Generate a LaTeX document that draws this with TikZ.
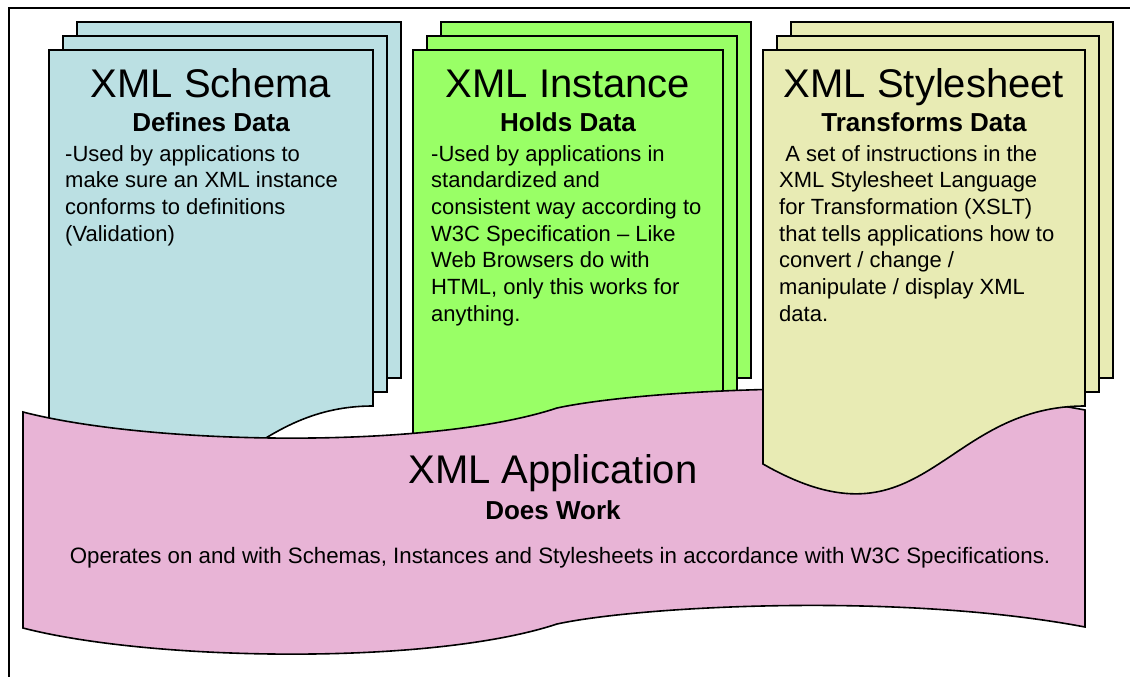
\documentclass[tikz,border=0pt]{standalone}
\usepackage{fontspec}
\setmainfont{Liberation Sans}

\definecolor{schemafill}{HTML}{BBE0E3}
\definecolor{instancefill}{HTML}{99FF66}
\definecolor{stylefill}{HTML}{E8EBB4}
\definecolor{appfill}{HTML}{E8B4D6}

% Three stacked sheets: #1 = left edge of the front sheet, #2 = its width, #3 = fill
\newcommand{\sheetstack}[3]{%
  \filldraw[sheet, fill=#3] ({#1+28},22) rectangle ({#1+#2+28},378);
  \filldraw[sheet, fill=#3] ({#1+14},36) rectangle ({#1+#2+14},392);
  \filldraw[sheet, fill=#3] (#1,50) -- ({#1+#2},50) -- ({#1+#2},406)
     .. controls ({#1+#2*0.55},406) and ({#1+#2/2},556) .. (#1,464) -- cycle;
}

\begin{document}
\begin{tikzpicture}[x=1pt, y=-1pt,
  sheet/.style={draw=black, line width=1.6pt, line join=miter},
  frameline/.style={draw=black, line width=2pt},
  titletext/.style={font=\fontsize{40}{44}\selectfont, anchor=base, inner sep=0pt},
  subtext/.style={font=\fontsize{26}{30}\selectfont\bfseries, anchor=base, inner sep=0pt},
  bodytext/.style={font=\fontsize{22}{26.7}\selectfont, anchor=base west, inner sep=0pt},
  apptext/.style={font=\fontsize{22.3}{26}\selectfont, anchor=base, inner sep=0pt}]
\useasboundingbox (0,0) rectangle (1130,677);
\fill[white] (0,0) rectangle (1130,677);

% page frame
\draw[frameline] (9,680) -- (9,8) -- (1133,8);

% schema and instance stacks (behind the application banner)
\sheetstack{49}{324}{schemafill}
\sheetstack{413}{310}{instancefill}

% application banner
\filldraw[sheet, fill=appfill]
  (23,412) .. controls (150,445) and (430,450) .. (557,408)
           .. controls (640,390) and (900,375) .. (1085,410)
  -- (1085,627)
           .. controls (900,592) and (640,606) .. (557,624)
           .. controls (430,666) and (150,661) .. (23,628) -- cycle;

% stylesheet stack (in front of the banner)
\sheetstack{763}{322}{stylefill}

% schema texts
\node[titletext] (schemaT) at (211,98) {XML Schema};
\node[subtext] (schemaS) at (211,131) {Defines Data};
\node[bodytext] (schemaB) at (65,161) {\begin{tabular}[t]{@{}l@{}}
-Used by applications to\\
make sure an XML instance\\
conforms to definitions\\
(Validation)\end{tabular}};

% instance texts
\node[titletext] (instT) at (568,98) {XML Instance};
\node[subtext] (instS) at (568,131) {Holds Data};
\node[bodytext] (instB) at (431,161) {\begin{tabular}[t]{@{}l@{}}
-Used by applications in\\
standardized and\\
consistent way according to\\
W3C Specification – Like\\
Web Browsers do with\\
HTML, only this works for\\
anything.\end{tabular}};

% stylesheet texts
\node[titletext] (styleT) at (924,98) {XML Stylesheet};
\node[subtext] (styleS) at (924,131) {Transforms Data};
\node[bodytext] (styleB) at (779,161) {\begin{tabular}[t]{@{}l@{}}
\ A set of instructions in the\\
XML Stylesheet Language\\
for Transformation (XSLT)\\
that tells applications how to\\
convert / change /\\
manipulate / display XML\\
data.\end{tabular}};

% application texts
\node[titletext] (appT) at (553,483) {XML Application};
\node[subtext] (appS) at (553,519) {Does Work};
\node[apptext] (appB) at (560,563) {Operates on and with Schemas, Instances and Stylesheets in accordance with W3C Specifications.};
\end{tikzpicture}
\end{document}
